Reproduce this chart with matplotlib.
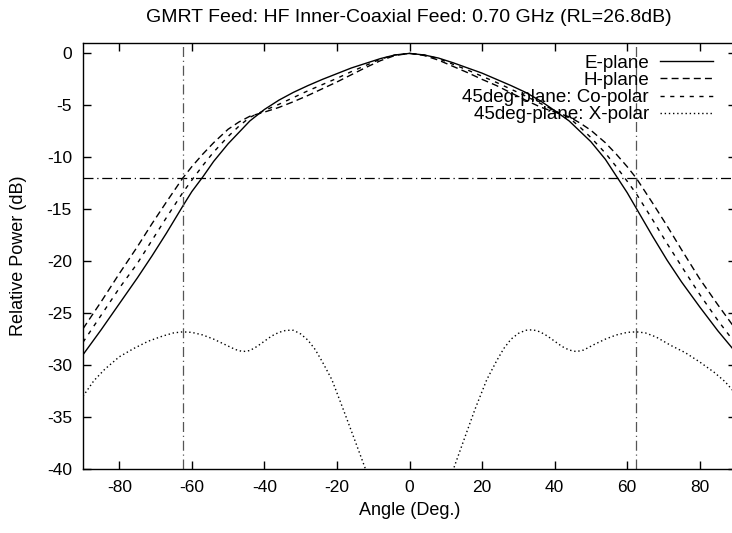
import numpy as np
import matplotlib
matplotlib.use("Agg")
import matplotlib.pyplot as plt

plt.rcParams['font.family'] = ['Liberation Sans', 'DejaVu Sans']
plt.rcParams['axes.unicode_minus'] = False

# angles (deg) for the co-polar cuts
ang = [-90, -85, -80, -75, -71, -67, -62.5, -60, -57, -54, -50, -47, -44, -40, -36, -32,
       -28, -24, -20, -16, -12, -8, -4, 0, 4, 8, 12, 16, 20, 24, 28, 32, 36, 40, 44, 47,
       50, 54, 57, 60, 62.5, 67, 71, 75, 80, 85, 90]

e_plane = [-29.0, -26.6, -24.1, -21.6, -19.5, -17.3, -14.7, -13.3, -11.9, -10.4, -8.7, -7.6,
           -6.5, -5.4, -4.5, -3.75, -3.1, -2.5, -1.95, -1.4, -0.95, -0.5, -0.15, 0.0,
           -0.15, -0.45, -0.9, -1.4, -1.9, -2.5, -3.1, -3.75, -4.55, -5.5, -6.5, -7.5,
           -8.5, -10.2, -11.8, -13.4, -14.9, -17.6, -19.9, -22.0, -24.4, -26.7, -28.8]

h_plane = [-26.5, -23.9, -21.2, -18.6, -16.4, -14.3, -12.0, -10.9, -9.7, -8.6, -7.3, -6.6,
           -6.05, -5.65, -5.2, -4.65, -4.05, -3.4, -2.75, -2.05, -1.35, -0.7, -0.2, 0.0,
           -0.2, -0.65, -1.25, -1.85, -2.5, -3.1, -3.8, -4.5, -5.15, -5.65, -6.1, -6.7,
           -7.4, -8.6, -9.7, -10.9, -12.0, -14.4, -16.6, -18.9, -21.7, -24.2, -26.6]

co_polar = [-27.8, -25.2, -22.6, -20.2, -18.0, -15.8, -13.4, -12.2, -10.8, -9.5, -8.0, -7.0,
            -6.15, -5.5, -4.9, -4.25, -3.6, -3.0, -2.4, -1.75, -1.15, -0.55, -0.15, 0.0,
            -0.15, -0.5, -1.05, -1.6, -2.2, -2.8, -3.45, -4.1, -4.8, -5.5, -6.2, -7.1,
            -8.1, -9.6, -10.9, -12.3, -13.5, -16.0, -18.3, -20.5, -23.2, -25.7, -28.0]

# cross-polar cut (drops below -40 dB around boresight)
xpol_ang = [-90, -87, -84, -80, -76, -72, -68, -65, -62.5, -60, -57, -54, -51, -48, -46,
            -44, -42, -40, -38, -36, -34, -32, -30, -28, -26, -24, -21.4, -18, -15, -11.5,
            0,
            11.5, 15, 18, 21.3, 24, 26, 28, 30, 32, 34, 36, 38, 40, 42, 44, 46, 48, 51, 54,
            57, 60, 62.5, 65, 68, 72, 76, 80, 84, 87, 90]
xpol_db = [-33.0, -31.5, -30.4, -29.2, -28.4, -27.7, -27.2, -26.9, -26.8, -26.85, -27.1,
           -27.5, -28.0, -28.5, -28.7, -28.6, -28.2, -27.7, -27.2, -26.85, -26.65, -26.65,
           -27.0, -27.6, -28.5, -29.7, -31.4, -34.5, -37.3, -40.6,
           np.nan,
           -40.6, -37.2, -34.3, -31.4, -29.6, -28.4, -27.5, -26.95, -26.65, -26.6, -26.8,
           -27.2, -27.7, -28.2, -28.55, -28.7, -28.55, -28.0, -27.5, -27.1, -26.85, -26.8,
           -26.9, -27.3, -28.1, -28.8, -29.7, -30.7, -31.6, -32.8]

hpbw_level = -12
edge_angle = 62.5

fig = plt.figure(figsize=(7.32, 5.33), dpi=100)
ax = fig.add_axes([83 / 732, 1 - 469 / 533, (736 - 83) / 732, (469 - 43) / 533])

ax.plot(ang, e_plane, color='black', lw=1.0, ls='-', label='E-plane')
ax.plot(ang, h_plane, color='black', lw=1.0, ls=(0, (5, 3)), label='H-plane')
ax.plot(ang, co_polar, color='black', lw=1.0, ls=(0, (3, 4)), label='45deg-plane: Co-polar')
ax.plot(xpol_ang, xpol_db, color='black', lw=1.0, ls=(0, (1, 2)), label='45deg-plane: X-polar')

ax.axhline(hpbw_level, color='black', lw=0.9, ls=(0, (8, 3, 1, 3)))
ax.axvline(-edge_angle, color='#555555', lw=0.9, ls=(0, (8, 3, 1, 3)))
ax.axvline(edge_angle, color='#555555', lw=0.9, ls=(0, (8, 3, 1, 3)))

ax.set_xlim(-90, 90)
ax.set_ylim(-40, 1)
ax.set_xticks(range(-80, 81, 20))
ax.set_yticks(range(-40, 1, 5))
ax.tick_params(direction='in', length=6, width=1, top=True, right=True,
               labelsize=12.5, pad=8)
for s in ax.spines.values():
    s.set_linewidth(1.0)

ax.set_xlabel('Angle (Deg.)', fontsize=13, labelpad=5)
ax.set_ylabel('Relative Power (dB)', fontsize=13, labelpad=14)
fig.text(409 / 732, 1 - 18 / 533, 'GMRT Feed: HF Inner-Coaxial Feed: 0.70 GHz (RL=26.8dB)',
         ha='center', va='center', fontsize=14)

ax.legend(loc='upper right', frameon=False, markerfirst=False, fontsize=13.5,
          handlelength=2.8, handletextpad=0.6, labelspacing=0.0, borderaxespad=0.0,
          bbox_to_anchor=(0.9755, 0.99))

fig.savefig('out.png', dpi=100)
